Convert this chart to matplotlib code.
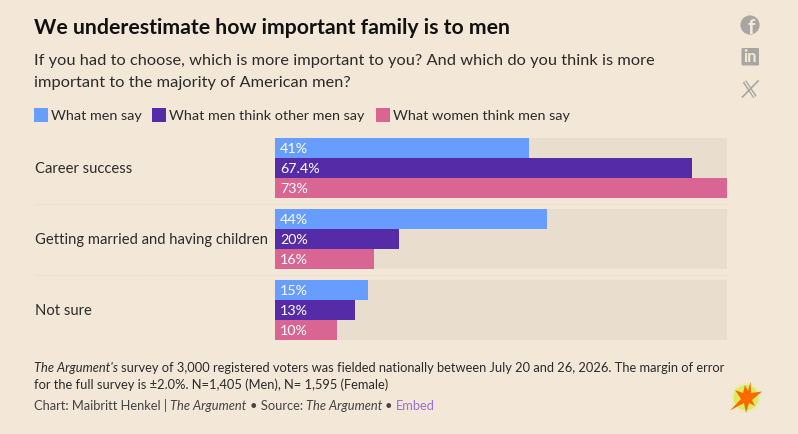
import matplotlib
matplotlib.use("Agg")
import matplotlib.pyplot as plt
from matplotlib.patches import Circle, FancyBboxPatch, Polygon

categories = ["Career success", "Getting married and having children", "Not sure"]
series_names = ["What men say", "What men think other men say", "What women think men say"]
men_say = [41, 44, 15]
men_think = [67.4, 20, 13]
women_think = [73, 16, 10]
men_labels = ["41%", "44%", "15%"]
think_labels = ["67.4%", "20%", "13%"]
women_labels = ["73%", "16%", "10%"]
axis_max = 73

BG = "#f3e8d7"
TRACK = "#e9dece"
COLORS = ["#679dff", "#552ba8", "#d96592"]
INK = "#2b2b2b"
W, H = 798, 434
plt.rcParams["font.family"] = ["Lato", "DejaVu Sans"]

fig = plt.figure(figsize=(W / 100, H / 100), dpi=100, facecolor=BG)

pg = fig.add_axes([0, 0, 1, 1], zorder=0)
pg.set_xlim(0, W); pg.set_ylim(H, 0); pg.axis("off")

L, R, T, B = 275, 727, 138, 340
ax = fig.add_axes([L / W, 1 - B / H, (R - L) / W, (B - T) / H], zorder=1)
ax.patch.set_alpha(0)
ax.set_xlim(0, axis_max)
ax.set_ylim(B - T, 0)
ax.axis("off")
group_tops = [0, 71, 142]
bar_h = 20
for top, cat, vals, labs in zip(
    group_tops, categories,
    zip(men_say, men_think, women_think),
    zip(men_labels, think_labels, women_labels)):
    ax.barh(top + 30, axis_max, height=60, color=TRACK, linewidth=0, zorder=1)
    for i, (v, lab) in enumerate(zip(vals, labs)):
        yc = top + bar_h * i + bar_h / 2
        ax.barh(yc, v, height=bar_h, color=COLORS[i], linewidth=0, zorder=2)
        ax.text(0.85, yc + 1.0, lab, color="white", fontsize=10.3, va="center", ha="left", zorder=3)
    pg.text(35, T + top + 31, cat, color=INK, fontsize=10.6, va="center", ha="left")

for y in (203.5, 274.5):
    pg.plot([35, R], [y, y], color="#e6dccb", lw=0.8, ls=(0, (1, 1.5)))

pg.text(34, 28.5, "We underestimate how important family is to men", fontsize=15.3,
        fontweight="bold", color="#111111", va="center", ha="left")
pg.text(34, 61.5, "If you had to choose, which is more important to you? And which do you think is more",
        fontsize=11.8, color=INK, va="center", ha="left")
pg.text(34, 82.5, "important to the majority of American men?",
        fontsize=11.8, color=INK, va="center", ha="left")

for name, col, sx in zip(series_names, COLORS, (34, 152, 376)):
    pg.add_patch(plt.Rectangle((sx, 108), 14, 14, color=col, lw=0))
    pg.text(sx + 17, 116, name, fontsize=10.35, color=INK, va="center", ha="left")

def runs(x, y, parts, size=9.28):
    r = fig.canvas.get_renderer()
    for s, style, col in parts:
        t = pg.text(x, y, s, fontsize=size, style=style, color=col, va="center", ha="left")
        x += t.get_window_extent(r).width

runs(34, 368.5, [("The Argument's ", "italic", INK),
               ("survey of 3,000 registered voters was fielded nationally between July 20 and 26, 2026. The margin of error", "normal", INK)])
runs(34, 385, [("for the full survey is ±2.0%. N=1,405 (Men), N= 1,595 (Female)", "normal", INK)])
runs(34, 406, [("Chart: Maibritt Henkel | ", "normal", "#444444"), ("The Argument ", "italic", "#444444"),
                 ("• Source: ", "normal", "#444444"), ("The Argument ", "italic", "#444444"),
                 ("• ", "normal", "#444444"), ("Embed", "normal", "#9a6fdc")])

GREY = "#a9a6a1"
pg.add_patch(Circle((750, 25), 9.6, color=GREY, lw=0))
pg.text(751, 27.5, "f", fontsize=15, fontweight="bold", color=BG, ha="center", va="center")
pg.add_patch(FancyBboxPatch((741.5, 48), 17.5, 17.5, boxstyle="round,pad=0,rounding_size=1.2", color=GREY, lw=0))
pg.text(750.2, 57.5, "in", fontsize=12, fontweight="bold", color=BG, ha="center", va="center")
pg.plot([744.5, 755], [81.5, 97], color=GREY, lw=3.0, solid_capstyle="butt")
pg.plot([744.8, 754.7], [81.5, 97], color=BG, lw=1.0, solid_capstyle="butt")
pg.plot([758, 742.5], [81, 97], color=GREY, lw=1.2)

pg.add_patch(Circle((746, 397.5), 15, color="#e6ee9e", lw=0, alpha=0.5))
pg.add_patch(Circle((746, 397.5), 12.5, color="#d9ec55", lw=0, alpha=0.9))
burst = [(730, 410.5), (741, 399), (735, 390), (743, 393), (745, 385), (748, 391),
         (750.5, 381.5), (751, 393), (762, 391.5), (752, 400), (755, 406),
         (749, 403), (746, 413), (744, 403)]
pg.add_patch(Polygon(burst, closed=True, color="#fa6a00", lw=0))

fig.savefig("out.png", dpi=100, facecolor=BG)
